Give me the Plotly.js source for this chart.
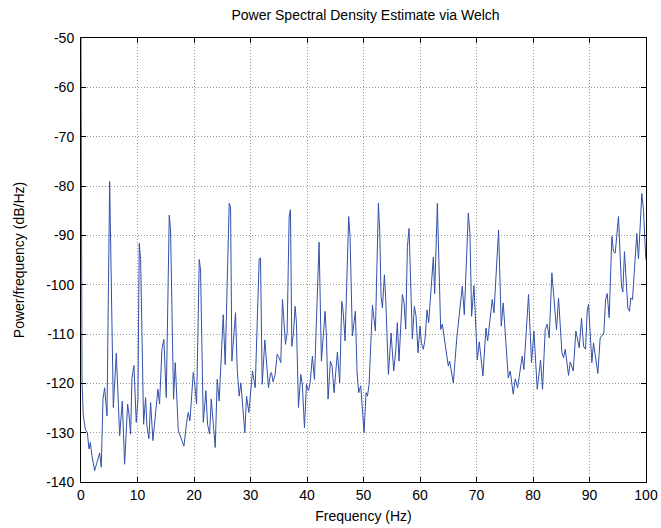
<!DOCTYPE html>
<html>
<head>
<meta charset="utf-8">
<script src="https://cdn.plot.ly/plotly-3.0.1.min.js"></script>
<style>html,body{margin:0;padding:0;background:#fff;}#chart{width:661px;height:528px;}</style>
</head>
<body>
<div id="chart"></div>
<script>
// Frequency (Hz) of each traced vertex
const freqHz = [
  0.00, 0.18, 0.41, 0.77, 1.12, 1.41, 1.65, 1.94, 2.42, 2.89, 3.30, 3.59, 3.89, 4.18, 4.60,
  5.07, 5.36, 5.72, 6.25, 6.54, 6.84, 7.31, 7.72, 8.25, 8.49, 8.78, 9.02, 9.37, 9.78,
  10.08, 10.31, 10.55, 10.84, 11.08, 11.43, 11.67, 12.02, 12.32, 12.73, 13.61, 13.91, 14.32,
  14.67, 15.09, 15.62, 15.85, 16.38, 16.68,
  17.22, 17.75, 18.22, 18.69, 18.98, 19.28, 19.87, 20.16, 20.46, 20.93, 21.16, 21.64, 22.11,
  22.40, 22.76, 23.05, 23.76, 24.11, 24.46, 25.17, 25.52, 26.23, 26.47, 26.70, 27.35, 27.65,
  28.00, 28.29, 28.65, 29.00, 29.30, 29.71, 30.36, 30.83, 31.54, 31.77, 32.07, 32.54, 33.18,
  33.54, 33.71, 34.00, 34.36, 34.72, 35.07, 35.36, 35.66, 35.95, 36.19, 36.48, 36.84, 37.07,
  37.31, 37.60, 37.90, 38.13, 38.49, 38.90, 39.19, 39.55, 39.90, 40.26, 40.55, 40.96, 41.32,
  42.14, 42.55, 43.20, 43.44, 43.73, 44.14, 44.44, 44.79, 45.38, 45.79, 46.15, 46.38, 46.74,
  47.38, 47.62, 48.03, 48.56, 48.86, 49.15, 49.51, 50.10, 50.45, 50.70, 50.99, 51.58, 51.81,
  52.11, 52.64, 52.87, 53.11, 53.35, 53.70, 53.94, 54.41, 54.88, 55.35, 55.70, 55.99, 56.29,
  56.88, 57.18, 57.47, 57.77, 58.06, 58.65, 59.00, 59.30, 59.65, 60.00, 60.24, 60.59, 60.89,
  61.24, 61.54, 62.36, 62.60, 63.07, 63.66, 63.95, 65.01, 65.25, 65.90, 66.49, 67.49, 67.84,
  68.55, 68.84, 69.14, 69.55, 70.14, 70.49, 71.14, 71.67, 71.97, 72.79, 73.09, 73.91, 74.38,
  74.73, 75.62, 75.97, 76.50, 76.86, 77.27, 78.09, 78.39, 79.21, 79.74, 80.16, 80.75, 81.34,
  81.69, 82.16, 82.51, 82.87, 83.34, 84.16, 84.52, 84.80, 85.12, 85.41, 85.71, 86.29, 86.59,
  87.12, 87.59, 88.18, 88.59, 88.95, 89.30, 89.59, 89.83, 90.42, 90.71, 91.48, 91.89, 92.54,
  92.84, 93.13, 93.48, 93.96, 94.25, 94.55, 94.84, 95.13, 95.66, 95.90, 96.19, 96.78, 97.08,
  97.31, 97.61, 98.37, 98.67, 99.26, 99.55, 99.97
];
// Power/frequency (dB/Hz) at each vertex
const psdDb = [
  -50.0, -119.9, -126.6, -129.3, -130.0, -133.3, -132.0, -134.7, -137.7, -136.0, -134.1, -137.0, -123.2, -120.9, -126.6,
  -79.1, -97.0, -124.9, -113.9, -123.9, -130.6, -123.6, -136.4, -124.2, -126.3, -130.3, -118.9, -116.4, -127.9,
  -123.2, -91.6, -94.9, -117.2, -128.3, -122.9, -128.6, -131.2, -123.9, -131.6, -121.2, -124.2, -113.1,
  -111.1, -122.9, -85.9, -88.9, -123.2, -115.8,
  -129.6, -131.3, -132.7, -127.9, -125.9, -127.6, -117.8, -120.5, -124.2, -94.9, -97.0, -127.9, -121.5,
  -128.3, -130.3, -123.2, -133.0, -119.2, -123.6, -106.1, -116.2, -83.5, -84.2, -115.5, -105.7, -117.2,
  -122.6, -119.9, -125.3, -130.0, -122.6, -125.9, -117.5, -120.9, -94.8, -94.6, -120.2, -111.2, -120.9,
  -118.0, -117.8, -119.7, -118.2, -114.1, -114.8, -115.8, -103.0, -107.1, -112.1, -109.8, -86.2, -84.8,
  -112.5, -109.8, -104.4, -107.7, -124.9, -118.2, -120.5, -129.0, -120.2, -121.5, -119.9, -114.5, -119.2,
  -91.4, -115.5, -105.4, -110.4, -123.2, -115.5, -116.5, -121.9, -113.7, -119.9, -103.4, -105.1, -111.4,
  -86.2, -90.2, -110.4, -105.4, -117.8, -121.9, -120.5, -130.0, -121.9, -122.6, -120.2, -104.2, -106.4,
  -109.4, -83.5, -89.2, -102.4, -104.7, -98.0, -103.0, -118.2, -109.8, -117.5, -113.5, -107.7, -115.5,
  -102.0, -103.7, -109.0, -92.3, -88.6, -111.0, -104.4, -106.4, -113.8, -108.4, -111.8, -113.1, -111.1,
  -105.1, -107.7, -94.4, -101.8, -83.5, -109.1, -108.0, -116.5, -115.5, -119.9, -111.1, -100.3, -106.1,
  -85.5, -89.6, -106.4, -100.2, -115.2, -111.6, -118.5, -108.8, -111.4, -103.0, -105.7, -88.9, -108.4,
  -103.7, -118.9, -117.5, -122.2, -119.1, -120.9, -114.5, -117.2, -102.0, -115.8, -109.4, -121.2, -115.3,
  -121.2, -109.1, -108.0, -110.8, -97.6, -109.1, -102.7, -107.1, -113.8, -114.8, -113.1, -118.4, -115.7,
  -117.5, -109.4, -112.8, -106.8, -112.5, -113.1, -105.4, -104.0, -115.8, -111.8, -118.0, -110.8, -109.8,
  -103.1, -101.8, -106.7, -90.2, -93.3, -93.6, -89.6, -86.2, -100.3, -101.5, -93.3, -104.7, -105.4,
  -102.7, -103.0, -89.6, -94.8, -81.5, -84.8, -94.9
];
const xTickVals = [0, 10, 20, 30, 40, 50, 60, 70, 80, 90, 100];
const yTickVals = [-140, -130, -120, -110, -100, -90, -80, -70, -60, -50];

const FONT = 'Liberation Sans, Arial, sans-serif';
const axisCommon = {
  showline: true, linecolor: '#000', linewidth: 1, mirror: 'ticks',
  ticks: 'inside', ticklen: 5, tickcolor: '#000', tickwidth: 1,
  showgrid: true, gridcolor: '#9a9a9a', griddash: '1px,2px', gridwidth: 1,
  zeroline: false, tickfont: {family: FONT, size: 14, color: '#000'}
};

Plotly.newPlot('chart', [{
  type: 'scatter', mode: 'lines', x: freqHz, y: psdDb,
  line: {color: '#3350aa', width: 1}, hoverinfo: 'skip'
}], {
  width: 661, height: 528,
  margin: {l: 81, r: 15, t: 37.5, b: 45.5},
  paper_bgcolor: '#fff', plot_bgcolor: '#fff',
  showlegend: false,
  title: {text: 'Power Spectral Density Estimate via Welch', x: 0.553, xanchor: 'center', y: 0.972, yanchor: 'middle',
          font: {family: FONT, size: 14, color: '#000'}},
  xaxis: Object.assign({}, axisCommon, {
    range: [0, 100], tickvals: xTickVals, ticktext: xTickVals.map(String),
    title: {text: 'Frequency (Hz)', standoff: 9, font: {family: FONT, size: 14, color: '#000'}}
  }),
  yaxis: Object.assign({}, axisCommon, {
    range: [-140, -50], tickvals: yTickVals, ticktext: yTickVals.map(String),
    ticklabelstandoff: 3,
    title: {text: 'Power/frequency (dB/Hz)', standoff: 18, font: {family: FONT, size: 14, color: '#000'}}
  })
}, {displayModeBar: false, staticPlot: true});
</script>
</body>
</html>
